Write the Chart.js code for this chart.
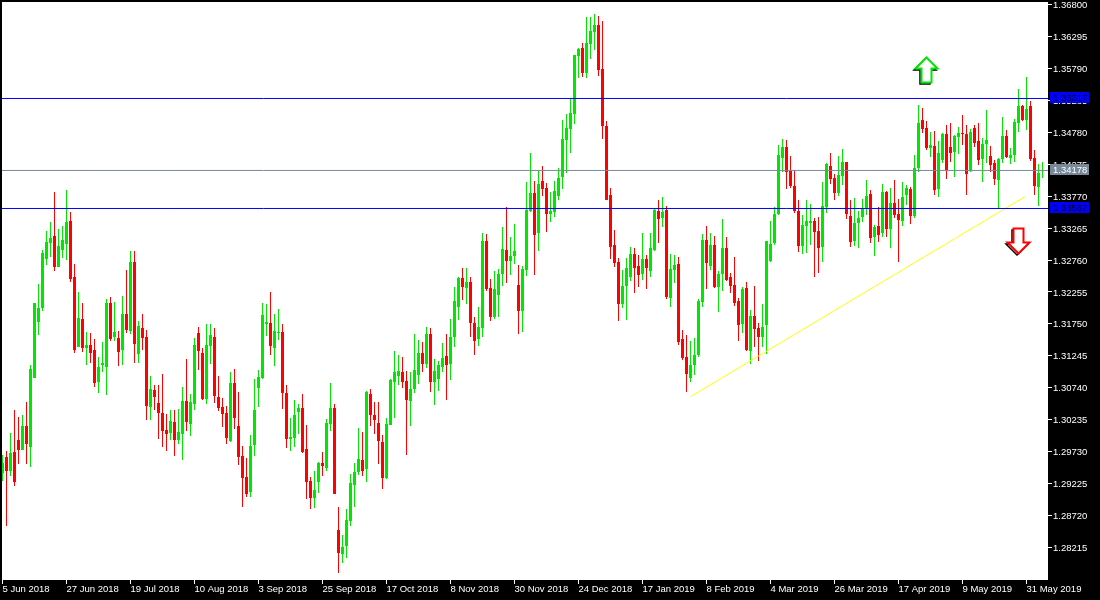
<!DOCTYPE html>
<html>
<head>
<meta charset="utf-8">
<title>Daily chart</title>
<script src="https://cdn.jsdelivr.net/npm/chart.js@4"></script>
<style>
html, body { margin: 0; padding: 0; background: #000; }
canvas { display: block; }
</style>
</head>
<body>
<canvas id="grafica" width="1100" height="600"></canvas>
<script>
// candles
const opens = [
1.29389,1.29643,1.29421,1.29722,1.29912,1.29753,1.30133,1.29801,1.30893,1.31779,
1.32001,1.32777,1.33030,1.33141,1.32650,1.32919,1.33014,1.33378,1.32492,1.31384,
1.31827,1.31368,1.31415,1.31336,1.30830,1.31099,1.31067,1.32080,1.31542,1.31526,
1.31336,1.31906,1.31637,1.32729,1.31273,1.31684,1.31542,1.30434,1.30703,1.30497,
1.30339,1.30070,1.30023,1.30197,1.29912,1.30007,1.30529,1.30165,1.30481,1.31605,
1.31289,1.30561,1.31400,1.31542,1.30592,1.30434,1.30339,1.29896,1.30814,1.30133,
1.29658,1.29326,1.29089,1.29833,1.30735,1.30893,1.31748,1.31764,1.31368,1.31605,
1.31621,1.30656,1.29928,1.29943,1.30355,1.30418,1.29769,1.29263,1.28994,1.29247,
1.29548,1.29468,1.30165,1.30418,1.28487,1.28107,1.28234,1.28630,1.29199,1.29405,
1.29595,1.29453,1.30640,1.30307,1.30181,1.29880,1.29310,1.30149,1.30830,1.30925,
1.30988,1.30846,1.30529,1.30719,1.30941,1.31289,1.31115,1.31589,1.30830,1.30877,
1.31067,1.31241,1.31115,1.31542,1.32017,1.32476,1.32318,1.32413,1.31764,1.31510,
1.31684,1.33061,1.32318,1.31859,1.32207,1.32539,1.32919,1.32745,1.32824,1.32365,
1.31954,1.32603,1.33536,1.33821,1.33188,1.34011,1.33900,1.33489,1.33521,1.33774,
1.34075,1.34660,1.34834,1.35072,1.35990,1.36116,1.35721,1.36180,1.36370,1.36480,
1.35784,1.34882,1.33790,1.32998,1.32729,1.32064,1.32349,1.32492,1.32856,1.32666,
1.32539,1.32777,1.32587,1.32919,1.33536,1.33426,1.33552,1.32159,1.32603,1.32698,
1.31510,1.31225,1.30893,1.31098,1.31257,1.32096,1.33077,1.32665,1.32998,1.32333,
1.32539,1.32950,1.32491,1.32365,1.32111,1.31747,1.32317,1.31320,1.31874,1.31684,
1.31542,1.31732,1.32745,1.33029,1.33488,1.34375,1.34549,1.34169,1.33932,1.33536,
1.32982,1.33299,1.33346,1.33378,1.33219,1.32966,1.33599,1.34248,1.34058,1.33821,
1.34090,1.34312,1.33457,1.33061,1.33346,1.33441,1.33584,1.33805,1.33125,1.33299,
1.33188,1.33837,1.33251,1.33663,1.33489,1.33378,1.33789,1.33884,1.33457,1.34217,
1.34976,1.34850,1.34533,1.34565,1.33884,1.34343,1.34755,1.34549,1.34470,1.34708,
1.34771,1.34755,1.34169,1.34850,1.34644,1.34359,1.34597,1.34407,1.34296,1.34027,
1.34359,1.34723,1.34375,1.34423,1.34929,1.35198,1.34977,1.35198,1.34375,1.33916,
1.34169];
const closes = [
1.29548,1.29421,1.29706,1.29247,1.29753,1.30133,1.29848,1.31036,1.32080,1.32001,
1.32872,1.33046,1.33109,1.32650,1.32982,1.33077,1.33362,1.32460,1.31336,1.31843,
1.31368,1.31415,1.31289,1.30814,1.31067,1.31130,1.32080,1.31510,1.31621,1.31305,
1.31906,1.31653,1.32729,1.31431,1.31716,1.31526,1.30450,1.30719,1.30592,1.30339,
1.30054,1.30007,1.30212,1.29912,1.30038,1.30529,1.30197,1.30513,1.31415,1.31320,
1.30561,1.31415,1.31574,1.30608,1.30418,1.30323,1.29943,1.30814,1.30260,1.29643,
1.29310,1.29057,1.29817,1.30387,1.30909,1.31890,1.31779,1.31400,1.31637,1.31621,
1.30656,1.29928,1.29959,1.30307,1.30418,1.29722,1.29247,1.28994,1.29120,1.29548,
1.29500,1.30181,1.30418,1.29057,1.28123,1.28218,1.28645,1.29231,1.29405,1.29611,
1.29421,1.30671,1.30307,1.30228,1.29896,1.29310,1.30165,1.30861,1.30988,1.31004,
1.30830,1.30545,1.30719,1.31020,1.31289,1.31115,1.31589,1.30830,1.31004,1.31099,
1.31210,1.31099,1.31542,1.32112,1.32476,1.32333,1.32413,1.31764,1.31479,1.31700,
1.33061,1.32302,1.31859,1.32302,1.32539,1.32935,1.32745,1.32824,1.32903,1.31954,
1.32618,1.33552,1.33821,1.33157,1.33964,1.33885,1.33489,1.33536,1.33853,1.34059,
1.34676,1.34850,1.35088,1.36006,1.36101,1.35721,1.36196,1.36385,1.36480,1.35768,
1.34882,1.33711,1.32967,1.32713,1.32064,1.32349,1.32634,1.32856,1.32634,1.32523,
1.32777,1.32634,1.32951,1.33552,1.33410,1.33521,1.32175,1.32618,1.32682,1.31463,
1.31209,1.30956,1.31098,1.31257,1.32111,1.33077,1.32713,1.32998,1.32333,1.32539,
1.32950,1.32444,1.32349,1.32080,1.31732,1.32301,1.31336,1.31874,1.31668,1.31542,
1.31700,1.33061,1.33014,1.33488,1.34422,1.34549,1.34153,1.33932,1.33536,1.32982,
1.33314,1.33378,1.33378,1.33204,1.32950,1.33615,1.34280,1.34042,1.33821,1.34106,
1.34312,1.33488,1.33045,1.33346,1.33425,1.33568,1.33774,1.33109,1.33283,1.33156,
1.33837,1.33251,1.33663,1.33473,1.33394,1.33758,1.33900,1.33457,1.34217,1.34929,
1.34834,1.34533,1.34581,1.33868,1.34454,1.34755,1.34185,1.34454,1.34723,1.34771,
1.34755,1.34122,1.34787,1.34613,1.34343,1.34597,1.34660,1.34264,1.34043,1.34359,
1.34723,1.34391,1.34423,1.34945,1.35198,1.34977,1.35151,1.34359,1.33932,1.34138,
1.34185];
const highs = [
1.29674,1.29738,1.30023,1.30387,1.30276,1.30307,1.30513,1.31099,1.32080,1.32381,
1.32919,1.33220,1.33362,1.33837,1.33251,1.33299,1.33869,1.33521,1.32697,1.32254,
1.32080,1.31621,1.31605,1.31510,1.31225,1.31463,1.32143,1.32175,1.32096,1.31637,
1.32191,1.32602,1.32903,1.32903,1.31795,1.31906,1.31653,1.30925,1.30782,1.30782,
1.30956,1.30323,1.30387,1.30387,1.30402,1.30751,1.31194,1.30640,1.31526,1.31700,
1.31368,1.31748,1.31748,1.31684,1.30925,1.30576,1.30450,1.30988,1.31035,1.30671,
1.29817,1.29627,1.29991,1.30877,1.31020,1.32080,1.32064,1.32254,1.31906,1.31985,
1.31748,1.30782,1.30260,1.30545,1.30481,1.30640,1.30149,1.29326,1.29421,1.29563,
1.29722,1.30244,1.30814,1.30481,1.28851,1.28408,1.28820,1.29374,1.29548,1.30102,
1.30038,1.30687,1.30719,1.30513,1.30513,1.29991,1.30260,1.30877,1.31320,1.31257,
1.31225,1.31004,1.30988,1.31589,1.31495,1.31463,1.31700,1.31684,1.31194,1.31162,
1.31447,1.31589,1.31827,1.32333,1.32492,1.32634,1.32634,1.32492,1.31859,1.32017,
1.33188,1.33172,1.32460,1.32587,1.32618,1.33283,1.33600,1.33125,1.33331,1.32682,
1.32666,1.33995,1.34454,1.34011,1.34170,1.34249,1.33980,1.33837,1.34011,1.34217,
1.34977,1.35072,1.35309,1.36006,1.36116,1.36196,1.36607,1.36607,1.36655,1.36623,
1.36544,1.34961,1.33900,1.33236,1.32793,1.32603,1.32793,1.32967,1.32951,1.32840,
1.33188,1.32840,1.33188,1.33568,1.33711,1.33758,1.33616,1.32856,1.32840,1.32808,
1.31652,1.31573,1.31478,1.31526,1.32143,1.33172,1.33299,1.33188,1.33140,1.32586,
1.33409,1.33124,1.32555,1.32808,1.32159,1.32333,1.32412,1.31969,1.32349,1.31763,
1.32064,1.33061,1.33378,1.33599,1.34581,1.34676,1.34660,1.34406,1.34169,1.33710,
1.33473,1.33710,1.33647,1.33425,1.33441,1.33995,1.34296,1.34454,1.34122,1.34406,
1.34517,1.34312,1.33710,1.33742,1.33536,1.33726,1.34027,1.33868,1.33314,1.33599,
1.33963,1.33853,1.33900,1.34027,1.33726,1.33995,1.33948,1.33916,1.34422,1.35214,
1.35166,1.34961,1.34787,1.34802,1.34644,1.34771,1.34897,1.34929,1.34739,1.34866,
1.35056,1.34897,1.34834,1.34897,1.34929,1.34692,1.35135,1.34565,1.34343,1.34375,
1.35024,1.34818,1.34533,1.34992,1.35467,1.35214,1.35657,1.35277,1.34502,1.34280,
1.34312];
const lows = [
1.29263,1.28551,1.29342,1.29184,1.29532,1.29753,1.29532,1.29484,1.30893,1.31574,
1.31954,1.32682,1.32808,1.32587,1.32650,1.32792,1.32761,1.32413,1.31289,1.31384,
1.31305,1.31099,1.31130,1.30751,1.30656,1.30988,1.30624,1.31479,1.31479,1.31083,
1.31099,1.31605,1.31589,1.31130,1.31130,1.31336,1.30228,1.30228,1.30387,1.29928,
1.29801,1.29738,1.29912,1.29658,1.29848,1.29595,1.30054,1.29975,1.30387,1.31020,
1.30545,1.30481,1.31115,1.30497,1.30371,1.30117,1.29848,1.29880,1.30086,1.29516,
1.28851,1.29009,1.29009,1.29658,1.30434,1.30877,1.31558,1.31257,1.31083,1.31494,
1.30402,1.29785,1.29738,1.29801,1.30007,1.29706,1.28978,1.28820,1.28835,1.29073,
1.29342,1.29421,1.30054,1.29057,1.27807,1.27965,1.28044,1.28551,1.28851,1.29358,
1.29342,1.29247,1.30133,1.30007,1.29532,1.29136,1.29294,1.30149,1.30260,1.30782,
1.30735,1.29674,1.30133,1.30656,1.30798,1.30988,1.31051,1.30671,1.30466,1.30687,
1.30988,1.30545,1.30861,1.31384,1.31811,1.32128,1.32064,1.31542,1.31257,1.31400,
1.31542,1.32270,1.31795,1.31827,1.31859,1.32349,1.32397,1.32523,1.32697,1.31589,
1.31621,1.32508,1.33521,1.32523,1.32903,1.33774,1.33204,1.33362,1.33441,1.33711,
1.33885,1.34138,1.34454,1.34913,1.35642,1.35657,1.35642,1.35942,1.36085,1.35673,
1.34676,1.33711,1.32777,1.32650,1.31795,1.32001,1.31811,1.32428,1.32239,1.32334,
1.32444,1.32302,1.32492,1.32903,1.33030,1.33283,1.32144,1.32017,1.32397,1.31415,
1.31178,1.30671,1.30829,1.30940,1.31225,1.32016,1.32301,1.32602,1.32317,1.31937,
1.32270,1.32428,1.32238,1.32032,1.31478,1.31605,1.31320,1.31114,1.31383,1.31162,
1.31383,1.31273,1.32729,1.32998,1.33473,1.34153,1.33884,1.33900,1.33504,1.32887,
1.32855,1.32871,1.32998,1.32491,1.32555,1.32729,1.33504,1.33963,1.33710,1.33773,
1.33947,1.33409,1.32966,1.32982,1.32950,1.33362,1.33473,1.33030,1.32824,1.33045,
1.33125,1.33125,1.32950,1.33425,1.32729,1.33299,1.33631,1.33330,1.33425,1.34153,
1.34771,1.34502,1.34391,1.33789,1.33758,1.34296,1.34043,1.34312,1.34074,1.34438,
1.34581,1.33789,1.34154,1.34549,1.34264,1.33995,1.34296,1.34154,1.33948,1.33568,
1.34296,1.34375,1.34280,1.34312,1.34787,1.34961,1.34818,1.34328,1.33789,1.33615,
1.34059];

// axis labels
const etiquetas_x = ['5 Jun 2018','27 Jun 2018','19 Jul 2018','10 Aug 2018','3 Sep 2018','25 Sep 2018','17 Oct 2018','8 Nov 2018','30 Nov 2018','24 Dec 2018','17 Jan 2019','8 Feb 2019','4 Mar 2019','26 Mar 2019','17 Apr 2019','9 May 2019','31 May 2019'];
const velas_por_etiqueta = 16;
const etiquetas_y = ['1.36800','1.36295','1.35790','1.35285','1.34780','1.34275','1.33770','1.33265','1.32760','1.32255','1.31750','1.31245','1.30740','1.30235','1.29730','1.29225','1.28720','1.28215'];

// horizontal levels and the labels on the price axis
const niveles = [1.35317, 1.34178, 1.33576];
const niveles_texto = ['1.35317', '1.34178', '1.33567'];
const niveles_color = ['#0000ff', '#778899', '#0000ff'];
const niveles_texto_color = ['#000000', '#ffffff', '#000000'];

// trend line
const tendencia_x = [172, 255.6];
const tendencia_y = [1.30597, 1.33763];

// arrows, tip position
const flecha_x = [230.875, 253.875];
const flecha_y = [1.35969, 1.32871];
const flecha_color = ['#00e600', '#ff0000'];
const flecha_dir = [1, -1];

const verde = '#00e600';
const rojo = '#ff0000';
const fuente = 'Liberation Sans';

const colores = closes.map((c, i) => c >= opens[i] ? verde : rojo);
const cuerpos = opens.map((o, i) => ({ x: i, y: [o, closes[i]] }));
const mechas = highs.map((h, i) => ({ x: i, y: [lows[i], h] }));

// no extra room for the first and last tick label
function sin_relleno(s) {
    s.paddingTop = 0;
    s.paddingBottom = 0;
    s.paddingLeft = 0;
    s.paddingRight = 0;
}

const fondo = {
    id: 'fondo',
    beforeDraw(chart) {
        const c = chart.ctx, a = chart.chartArea;
        c.save();
        c.fillStyle = '#000000';
        c.fillRect(0, 0, chart.width, chart.height);
        c.fillStyle = '#ffffff';
        c.fillRect(a.left, a.top, a.right - a.left, a.bottom - a.top);
        c.restore();
    }
};

// MT4 style arrows and the coloured price labels
const extras = {
    id: 'extras',
    afterDraw(chart) {
        const c = chart.ctx, sx = chart.scales.x, sy = chart.scales.y;
        flecha_x.forEach((fx, i) => {
            const x = Math.round(sx.getPixelForValue(fx)) + 0.5;
            const y = Math.round(sy.getPixelForValue(flecha_y[i])) + 0.5;
            const d = flecha_dir[i];
            const camino = (ox, oy) => {
                c.beginPath();
                c.moveTo(x + ox, y + oy);
                c.lineTo(x + ox + 11, y + oy + d * 11);
                c.lineTo(x + ox + 5, y + oy + d * 11);
                c.lineTo(x + ox + 5, y + oy + d * 25);
                c.lineTo(x + ox - 5, y + oy + d * 25);
                c.lineTo(x + ox - 5, y + oy + d * 11);
                c.lineTo(x + ox - 11, y + oy + d * 11);
                c.closePath();
            };
            c.save();
            c.lineWidth = 1.5;
            c.strokeStyle = '#000000';
            camino(-1.5, 1.5);
            c.stroke();
            c.lineWidth = 2;
            c.fillStyle = '#ffffff';
            c.strokeStyle = flecha_color[i];
            camino(0, 0);
            c.fill();
            c.stroke();
            c.restore();
        });
        niveles.forEach((n, i) => {
            const y = Math.round(sy.getPixelForValue(n));
            c.save();
            c.fillStyle = niveles_color[i];
            c.fillRect(1050, y - 6, 39, 11);
            c.fillStyle = niveles_texto_color[i];
            c.font = '9.5px "' + fuente + '"';
            c.textBaseline = 'middle';
            c.fillText(niveles_texto[i], 1053, y);
            c.restore();
        });
    }
};

const datos_niveles = niveles.map((n, i) => ({
    type: 'line',
    data: [{ x: -0.125, y: n }, { x: 261.375, y: n }],
    borderColor: niveles_color[i],
    borderWidth: 1,
    pointRadius: 0,
    order: 0
}));

const ctx = document.getElementById('grafica');
const myChart = new Chart(ctx, {
    type: 'bar',
    data: {
        datasets: [
            {
                data: cuerpos,
                backgroundColor: colores,
                barThickness: 3,
                minBarLength: 1,
                grouped: false,
                inflateAmount: 0,
                borderWidth: 0,
                order: 2
            },
            {
                data: mechas,
                backgroundColor: colores,
                barThickness: 1,
                grouped: false,
                inflateAmount: 0,
                borderWidth: 0,
                order: 3
            },
            {
                type: 'line',
                data: tendencia_x.map((x, i) => ({ x: x, y: tendencia_y[i] })),
                borderColor: '#ffff00',
                borderWidth: 1,
                pointRadius: 0,
                order: 1
            }
        ].concat(datos_niveles)
    },
    options: {
        responsive: false,
        devicePixelRatio: 1,
        animation: false,
        layout: { padding: { top: 2, left: 2, right: 0, bottom: 0 } },
        plugins: {
            legend: { display: false },
            title: { display: false },
            tooltip: { enabled: false }
        },
        scales: {
            x: {
                type: 'linear',
                offset: false,
                min: -0.125,
                max: 261.375,
                border: { display: false },
                grid: { offset: false, drawOnChartArea: false, color: '#ffffff', tickLength: 4 },
                afterBuildTicks: (s) => { s.ticks = etiquetas_x.map((e, i) => ({ value: i * velas_por_etiqueta })); },
                afterFit: (s) => { s.height = 20; sin_relleno(s); },
                ticks: {
                    autoSkip: false,
                    maxRotation: 0,
                    align: 'start',
                    padding: 0,
                    color: '#ffffff',
                    font: { family: fuente, size: 9.5 },
                    callback: (v) => etiquetas_x[v / velas_por_etiqueta]
                }
            },
            y: {
                position: 'right',
                min: 1.276957,
                max: 1.368443,
                beginAtZero: false,
                border: { display: false },
                grid: { drawOnChartArea: false, color: '#ffffff', tickLength: 4 },
                afterBuildTicks: (s) => { s.ticks = etiquetas_y.map((e) => ({ value: parseFloat(e) })); },
                afterFit: (s) => { s.width = 52; sin_relleno(s); },
                ticks: {
                    autoSkip: false,
                    padding: 1,
                    labelOffset: 1,
                    color: '#ffffff',
                    font: { family: fuente, size: 9.5 },
                    callback: (v) => v.toFixed(5)
                }
            }
        }
    },
    plugins: [fondo, extras]
});
</script>
</body>
</html>
